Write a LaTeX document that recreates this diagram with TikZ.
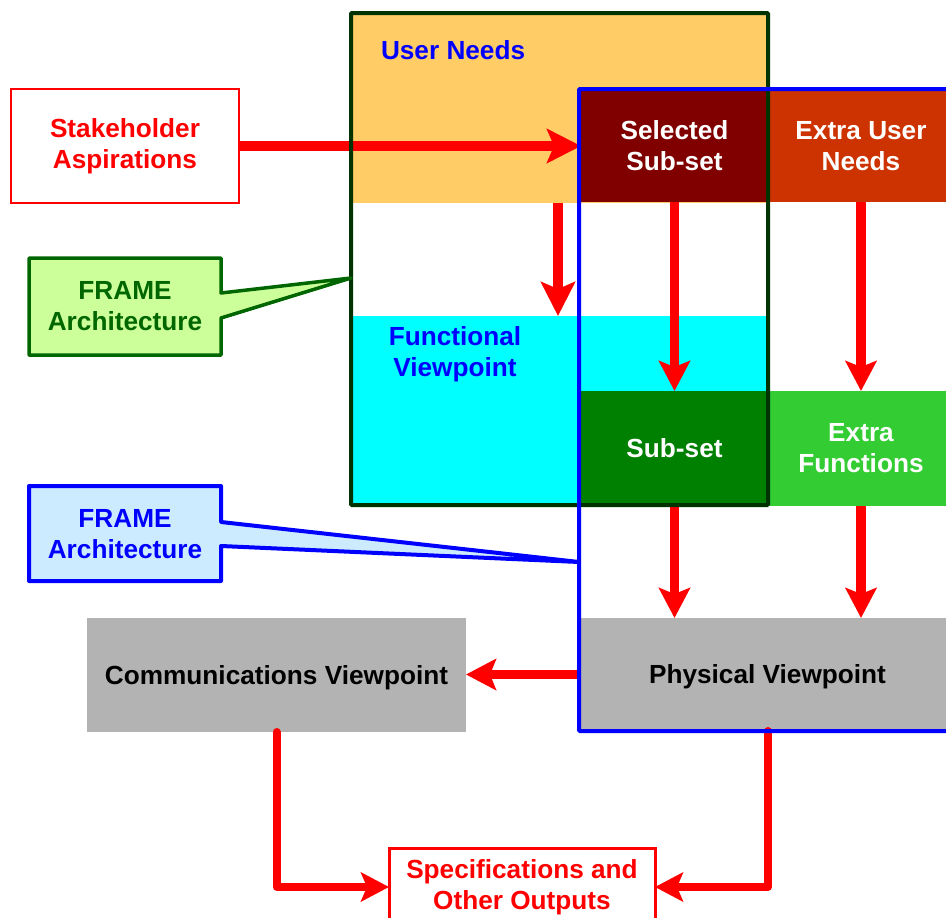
\documentclass[tikz,border=0pt]{standalone}
\usepackage{fontspec}
\setmainfont{Liberation Sans}
\usetikzlibrary{arrows.meta}
\definecolor{orangefill}{HTML}{FFCC66}
\definecolor{cyanfill}{HTML}{00FFFF}
\definecolor{selred}{HTML}{800000}
\definecolor{extred}{HTML}{CC3300}
\definecolor{subgreen}{HTML}{008000}
\definecolor{extgreen}{HTML}{33CC33}
\definecolor{grayfill}{HTML}{B3B3B3}
\definecolor{frameg}{HTML}{003300}
\definecolor{calloutg}{HTML}{006600}
\definecolor{calloutgfill}{HTML}{CCFF99}
\definecolor{calloutbfill}{HTML}{CCEBFF}
\begin{document}
\begin{tikzpicture}[x=1pt,y=-1pt,
  region/.style={inner sep=0pt, outer sep=0pt, draw=none},
  lbl/.style={inner sep=0pt, outer sep=0pt, align=center, font=\bfseries\fontsize{26.2}{31}\selectfont},
  boxtext/.style={region, lbl},
  bigarr/.style={draw=red, line width=10.5pt, -{Stealth[length=34pt,width=34pt,inset=7pt]}},
  midarr/.style={draw=red, line width=9.5pt, -{Stealth[length=30pt,width=31pt,inset=6pt]}},
  elbarr/.style={draw=red, line width=8pt, line cap=round, line join=round, -{Stealth[length=28pt,width=29pt,inset=6pt]}}
]
\useasboundingbox (0,0) rectangle (946,918);
\clip (0,0) rectangle (946,918);

% coloured regions
\node[region, fill=orangefill, minimum width=417pt, minimum height=190pt] (userneeds) at (559.5,108) {};
\node[region, fill=cyanfill, minimum width=417pt, minimum height=189pt] (func) at (559.5,410.5) {};
\node[boxtext, fill=selred, text=white, minimum width=187pt, minimum height=112pt] (sel) at (674.5,146) {Selected\\Sub-set};
\node[boxtext, fill=extred, text=white, minimum width=186pt, minimum height=112pt] (extra) at (861,146) {Extra User\\Needs};
\node[boxtext, fill=subgreen, text=white, minimum width=187pt, minimum height=114pt] (subset) at (674.5,448) {Sub-set};
\node[boxtext, fill=extgreen, text=white, minimum width=186pt, minimum height=115pt] (extfun) at (861,448.5) {Extra\\Functions};
\node[boxtext, fill=grayfill, text=black, text depth=0pt, minimum width=373pt, minimum height=113pt] (phys) at (767.5,674.5) {Physical Viewpoint};
\node[boxtext, fill=grayfill, text=black, text depth=0pt, minimum width=379pt, minimum height=114pt] (comm) at (276.5,675) {Communications Viewpoint};
\node[boxtext, fill=white, draw=red, line width=2.5pt, text=red, minimum width=228pt, minimum height=114pt] (stake) at (125,146) {Stakeholder\\Aspirations};
\node[boxtext, fill=white, draw=red, line width=3pt, text=red, minimum width=266pt, minimum height=78pt] (spec) at (522,887) {Specifications and\\Other Outputs};

% region titles
\node[lbl, text=blue, anchor=west] (untitle) at (381,50) {User Needs};
\node[lbl, text=blue] (functitle) at (455,354) {Functional\\Viewpoint};

% arrows
\coordinate (a2) at (558,203);
\draw[bigarr] (stake.east) -- (stake.east -| sel.west);
\draw[bigarr] (a2) -- (a2 |- func.north);
\draw[midarr] (sel.south) -- (subset.north);
\draw[midarr] (extra.south) -- (extfun.north);
\draw[midarr] (subset.south) -- (subset.south |- phys.north);
\draw[midarr] (extfun.south) -- (extfun.south |- phys.north);
\draw[midarr] (phys.west) -- (phys.west -| comm.east);
\draw[elbarr] (comm.south) |- (spec.west);
\draw[elbarr] ([xshift=0.5pt]phys.south) |- (spec.east);

% frames
\node[region, draw=frameg, line width=4pt, rounded corners=1pt, minimum width=417pt, minimum height=492pt] (gframe) at (559.5,259) {};
\node[region, draw=blue, line width=4pt, rounded corners=1pt, minimum width=381pt, minimum height=642pt] (bframe) at (769.5,410) {};

% callouts
\draw[draw=calloutg, fill=calloutgfill, line width=3.5pt, line join=round]
  (29,258) -- (221,258) -- (221,293) -- (351,278) -- (221,318) -- (221,355) -- (29,355) -- cycle;
\node[lbl, text=calloutg] (gcall) at (125,306) {FRAME\\Architecture};
\draw[draw=blue, fill=calloutbfill, line width=4pt, line join=round]
  (29,486) -- (221,486) -- (221,522) -- (579,562) -- (221,546) -- (221,581) -- (29,581) -- cycle;
\node[lbl, text=blue] (bcall) at (125,534) {FRAME\\Architecture};
\end{tikzpicture}
\end{document}
